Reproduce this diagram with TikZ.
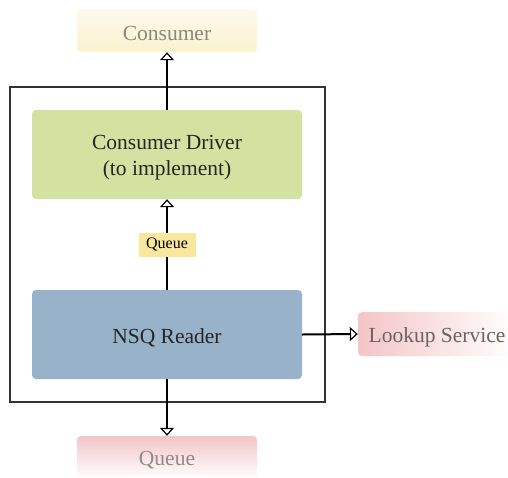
\documentclass[tikz,border=0pt]{standalone}
\usepackage{fontspec}
\setmainfont{Liberation Serif}
\usetikzlibrary{arrows.meta}
\definecolor{drvgreen}{HTML}{D3E1A1}
\definecolor{nsqblue}{HTML}{98B3C9}
\definecolor{qyellow}{HTML}{F8E79C}
\definecolor{pinkA}{HTML}{F4C5C7}
\definecolor{yelTop}{HTML}{FDF9EE}
\definecolor{yelBot}{HTML}{FAF2CF}
\definecolor{greytext}{HTML}{8A8878}
\definecolor{pinktext}{HTML}{6E6263}
\begin{document}
\begin{tikzpicture}[x=1pt,y=-1pt,
  box/.style={rounded corners=4pt, inner sep=0pt},
  txt/.style={inner sep=0pt, font=\fontsize{21.5}{26}\selectfont, align=center, yshift=-3pt},
  frm/.style={draw=black!80, line width=1.3pt, inner sep=0pt},
  arr/.style={line width=2pt, -{Triangle[width=14pt,length=8pt,fill=white,line width=1.2pt]}},
  qlabel/.style={fill=qyellow, inner sep=0pt, minimum width=57pt, minimum height=24pt, font=\fontsize{16}{19}\selectfont}
]
\useasboundingbox (0,0) rectangle (508,477);
\node[frm, minimum width=315pt, minimum height=315pt] (frame) at (167.5,244.5) {};
\node[box, top color=yelTop, bottom color=yelBot, minimum width=180pt, minimum height=43pt] (cons) at (167,30.5) {};
\node[txt, text=greytext] (consT) at (cons.center) {Consumer};
\node[box, fill=drvgreen, minimum width=270pt, minimum height=89pt] (drv) at (167,154.5) {};
\node[txt, text=black!85] (drvT) at (drv.center) {Consumer Driver\\(to implement)};
\node[box, fill=nsqblue, minimum width=270pt, minimum height=89pt] (nsq) at (167,334.5) {};
\node[txt, text=black!85] (nsqT) at (nsq.center) {NSQ Reader};
\node[box, left color=pinkA, middle color=pinkA!75, right color=white, minimum width=158pt, minimum height=44pt] (look) at (437,334) {};
\node[txt, text=pinktext] (lookT) at (look.center) {Lookup Service};
\node[box, top color=pinkA, bottom color=white, minimum width=180pt, minimum height=43pt] (q) at (167,457.5) {};
\node[txt, text=pinktext!75] (qT) at (q.center) {Queue};
\draw[arr] (drv.north) -- (cons.south);
\draw[arr] (nsq.north) -- (drv.south) node[midway, qlabel] (ql) {Queue};
\draw[arr] (nsq.south) -- (q.north);
\draw[arr] (nsq.east) -- (look.west);
\end{tikzpicture}
\end{document}
